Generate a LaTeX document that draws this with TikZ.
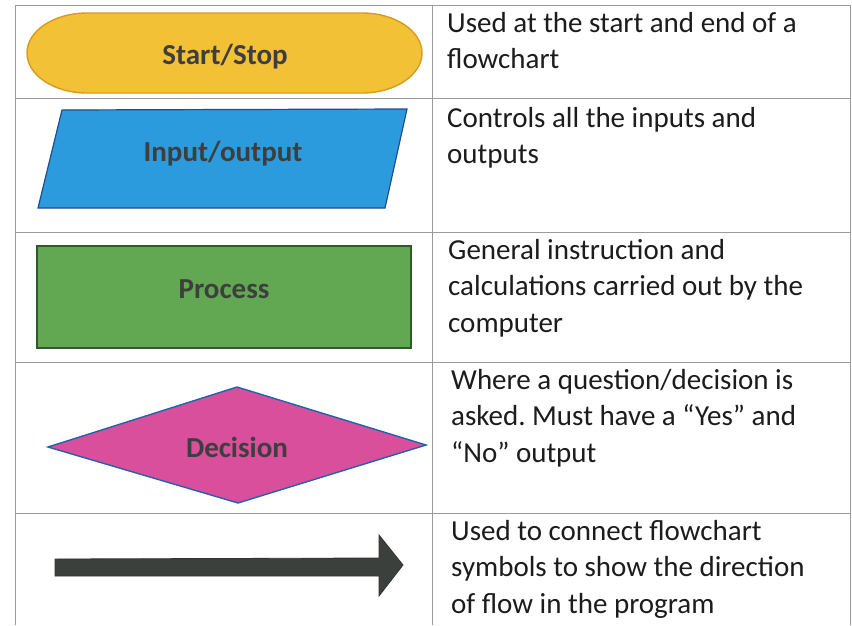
\documentclass[tikz,border=0pt]{standalone}
\usepackage{fontspec}
\setmainfont{Carlito}
\definecolor{ink}{HTML}{1C1C1C}
\definecolor{gridc}{HTML}{9A9A9A}
\definecolor{termfill}{HTML}{F3C136}
\definecolor{termline}{HTML}{D99A1C}
\definecolor{iofill}{HTML}{2B9BDD}
\definecolor{ioline}{HTML}{1F4E8C}
\definecolor{procfill}{HTML}{62A852}
\definecolor{procline}{HTML}{2F5A2A}
\definecolor{decfill}{HTML}{DA4F9B}
\definecolor{decline}{HTML}{1F63AE}
\definecolor{arrfill}{HTML}{3B403C}
\tikzset{
  grid line/.style={draw=gridc, line width=0.9pt},
  symlabel/.style={font=\fontsize{29}{32}\selectfont\bfseries, text=ink!85, inner sep=0pt},
  desc/.style={font=\fontsize{29}{36.5}\selectfont, text=ink, align=left, anchor=north west, inner sep=0pt},
}
\frenchspacing
\begin{document}
\begin{tikzpicture}[x=1pt,y=-1pt]
\useasboundingbox[fill=white] (0,0) rectangle (852,625);

% table rules
\foreach \y in {5,98,232,362,513} \draw[grid line] (15,\y) -- (850,\y);
\foreach \x in {15,432,850} \draw[grid line] (\x,5) -- (\x,625);

% terminator (stadium with elliptical ends)
\coordinate (tm1) at (87,13);
\coordinate (tm2) at (362,13);
\coordinate (tm3) at (87,93);
\draw[draw=termline, line width=1.4pt, fill=termfill]
  (tm1) -- (tm2) arc[start angle=90, end angle=-90, x radius=60pt, y radius=40pt]
  -- (tm3) arc[start angle=270, end angle=90, x radius=60pt, y radius=40pt] -- cycle;
\node[symlabel] (termlbl) at (225,57) {Start/Stop};

% input / output
\coordinate (io1) at (62,110);
\coordinate (io2) at (407,109);
\coordinate (io3) at (385,208);
\coordinate (io4) at (38,208);
\draw[fill=iofill, draw=ioline, line width=1.2pt] (io1) -- (io2) -- (io3) -- (io4) -- cycle;
\node[symlabel] (iolbl) at (223,154) {Input/output};

% process
\node[draw=procline, fill=procfill, line width=1.3pt, minimum width=374pt,
      minimum height=102pt, inner sep=0pt] (proc) at (224,297) {};
\node[symlabel] (proclbl) at (224,289) {Process};

% decision
\coordinate (d1) at (48,447);
\coordinate (d2) at (237,387);
\coordinate (d3) at (426,445);
\coordinate (d4) at (238,503);
\draw[fill=decfill, draw=decline, line width=1.4pt] (d1) -- (d2) -- (d3) -- (d4) -- cycle;
\node[symlabel] (declbl) at (237,447) {Decision};

% flow line
\coordinate (a1) at (55,559);
\coordinate (a2) at (379,558);
\coordinate (a3) at (379,535);
\coordinate (a4) at (403,565);
\coordinate (a5) at (379,596);
\coordinate (a6) at (379,576);
\coordinate (a7) at (55,576);
\draw[fill=arrfill, draw=black!80, line width=0.8pt]
  (a1) -- (a2) -- (a3) -- (a4) -- (a5) -- (a6) -- (a7) -- cycle;

% descriptions
\node[desc] (t1) at (447,12) {Used at the start and end of a\\flowchart};
\node[desc] (t2) at (447,107) {Controls all the inputs and\\outputs};
\node[desc] (t3) at (448,239) {General instruction and\\calculations carried out by the\\computer};
\node[desc] (t4) at (451,369) {Where a question/decision is\\asked. Must have a “Yes” and\\“No” output};
\node[desc] (t5) at (451,520) {Used to connect flowchart\\symbols to show the direction\\of flow in the program};
\end{tikzpicture}
\end{document}
